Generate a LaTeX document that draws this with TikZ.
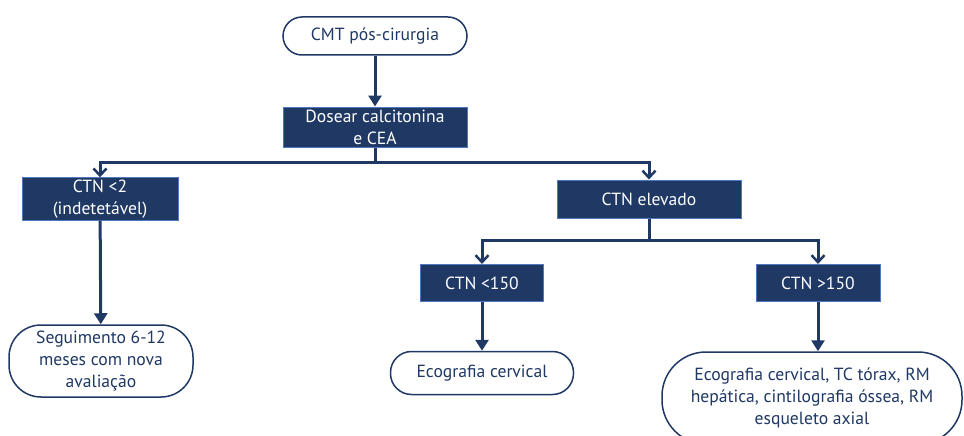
\documentclass[tikz,border=0pt]{standalone}
\usepackage{fontspec}
\setmainfont{PT Sans}
\usetikzlibrary{arrows.meta,positioning}
\definecolor{navy}{RGB}{31,56,100}
\definecolor{edgeblue}{RGB}{80,120,190}
\tikzset{
  darkbox/.style={draw=edgeblue, line width=1pt, fill=navy, text=white, align=center, inner sep=2pt},
  pill/.style={draw=navy, line width=1.5pt, fill=white, text=navy, align=center, rounded corners=#1},
  pill/.default=19pt,
  link/.style={navy, line width=3pt},
  barb/.style={link, -{Straight Barb[length=7pt,width=13pt,line width=2.5pt]}},
  tip/.style={link, -{Triangle[length=11pt,width=13pt]}},
}
\begin{document}
\begin{tikzpicture}[x=1pt, y=-1pt, font=\fontsize{17.6}{22}\selectfont]
    \useasboundingbox (0,0) rectangle (964,436);
    \clip (0,0) rectangle (964,436);

    % top of the chart
    \node[pill, minimum width=184pt, minimum height=38pt] (start) at (375,36) {CMT pós-cirurgia};
    \node[darkbox, minimum width=184pt, minimum height=40pt] (dosear) at (375,127) {Dosear calcitonina\\e CEA};

    % first split
    \node[darkbox, minimum width=156pt, minimum height=38pt] (low) at (100,199) {CTN <2\\(indetetável)};
    \node[darkbox, minimum width=184pt, minimum height=38pt] (high) at (649,199) {CTN elevado};

    % second split
    \node[darkbox, minimum width=123pt, minimum height=37pt] (mid) at (482,283) {CTN <150};
    \node[darkbox, minimum width=124pt, minimum height=37pt] (top) at (818,283) {CTN >150};

    % outcomes
    \node[pill=32pt, minimum width=184pt, minimum height=72pt] (follow) at (101,361) {Seguimento 6-12\\meses com nova\\avaliação};
    \node[pill=21pt, minimum width=183pt, minimum height=43pt] (eco) at (482,373) {Ecografia cervical};
    \node[pill=44pt, minimum width=300pt, minimum height=92pt] (full) at (812,398) {Ecografia cervical, TC tórax, RM\\hepática, cintilografia óssea, RM\\esqueleto axial};

    % connectors
    \draw[tip] (start) -- (dosear);
    \coordinate (j1) at (dosear.south |- 0,162);
    \coordinate (j2) at (high.south |- 0,240);
    \draw[link] (dosear) -- (j1);
    \draw[barb] (j1) -| (low.north);
    \draw[barb] (j1) -| (high.north);
    \draw[link] (high) -- (j2);
    \draw[barb] (j2) -| (mid.north);
    \draw[barb] (j2) -| (top.north);
    \draw[tip] (low) -- (follow);
    \draw[tip] (mid) -- (eco);
    \draw[tip] (top) -- (full.north -| top.south);
\end{tikzpicture}
\end{document}
